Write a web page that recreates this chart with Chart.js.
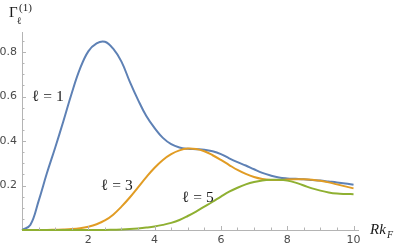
<!DOCTYPE html>
<html>
<head>
<meta charset="utf-8">
<script src="https://cdn.jsdelivr.net/npm/chart.js@4.4.1/dist/chart.umd.min.js"></script>
<style>
html,body{margin:0;padding:0;background:#fff;}
#wrap{width:399px;height:248px;}
</style>
</head>
<body>
<div id="wrap"><canvas id="c" width="399" height="248"></canvas></div>
<script>
const xValues = [0,0.25,0.5,0.75,1,1.25,1.5,1.75,2,2.25,2.5,2.75,3,3.25,3.5,3.75,4,4.25,4.5,4.75,5,5.25,5.5,5.75,6,6.25,6.5,6.75,7,7.25,7.5,7.75,8,8.25,8.5,8.75,9,9.25,9.5,9.75,10];
const gammaL1 = [0,0.022,0.13,0.255,0.37,0.49,0.615,0.725,0.803,0.839,0.846,0.815,0.757,0.667,0.585,0.512,0.458,0.414,0.386,0.371,0.365,0.363,0.361,0.354,0.341,0.322,0.305,0.290,0.273,0.257,0.245,0.236,0.232,0.230,0.228,0.225,0.222,0.218,0.214,0.209,0.203];
const gammaL3 = [0,0,0,0,0.001,0.002,0.004,0.008,0.015,0.026,0.043,0.069,0.105,0.146,0.192,0.238,0.280,0.315,0.341,0.358,0.366,0.364,0.354,0.336,0.315,0.292,0.270,0.252,0.238,0.229,0.225,0.225,0.227,0.228,0.228,0.226,0.221,0.214,0.205,0.196,0.187];
const gammaL5 = [0,0,0,0,0,0,0,0,0,0,0,0.001,0.002,0.004,0.007,0.011,0.016,0.023,0.032,0.045,0.063,0.083,0.105,0.127,0.150,0.172,0.190,0.205,0.216,0.223,0.226,0.226,0.222,0.213,0.200,0.187,0.177,0.169,0.164,0.162,0.161];
const xTickValues = [2,4,6,8,10];
const yTickValues = [0.2,0.4,0.6,0.8];
const curveLabels = ['ℓ = 1','ℓ = 3','ℓ = 5'];

const toPts = ys => xValues.map((x,i)=>({x:x,y:ys[i]}));
const axisColor = '#b4b4b4';

const decorations = {
  id:'decorations',
  afterDraw(chart){
    const ctx = chart.ctx;
    const xs = chart.scales.x, ys = chart.scales.y;
    const x0 = xs.getPixelForValue(0), y0 = ys.getPixelForValue(0);
    ctx.save();
    ctx.strokeStyle = axisColor;
    ctx.lineWidth = 1;
    ctx.beginPath();
    for (let v = 0.5; v <= 10.001; v += 0.5) {
      const major = Math.abs(v/2 - Math.round(v/2)) < 1e-6;
      const px = Math.round(xs.getPixelForValue(v)) + 0.5;
      ctx.moveTo(px, y0);
      ctx.lineTo(px, y0 - (major ? 4 : 2.5));
    }
    for (let v = 0.05; v <= 0.86; v += 0.05) {
      const major = Math.abs(v/0.2 - Math.round(v/0.2)) < 1e-6;
      const py = Math.round(ys.getPixelForValue(v)) + 0.5;
      ctx.moveTo(x0, py);
      ctx.lineTo(x0 + (major ? 4 : 2.5), py);
    }
    ctx.stroke();

    ctx.fillStyle = '#1a1a1a';
    ctx.textBaseline = 'alphabetic';
    ctx.textAlign = 'left';
    ctx.font = '15.5px "Liberation Serif"';
    ctx.fillText(curveLabels[0], 32, 101);
    ctx.fillText(curveLabels[1], 101, 190);
    ctx.fillText(curveLabels[2], 182, 202);
    ctx.font = '15px "Liberation Serif"';
    ctx.fillText('Γ', 9, 17);
    ctx.font = '10px "Liberation Serif"';
    ctx.fillText('ℓ', 17, 24);
    ctx.font = '11px "Liberation Serif"';
    ctx.fillText('(1)', 19, 11);
    ctx.font = 'italic 15px "Liberation Serif"';
    ctx.fillText('Rk', 370, 234);
    ctx.font = 'italic 10px "Liberation Serif"';
    ctx.fillText('F', 387, 238);
    ctx.restore();
  }
};

new Chart(document.getElementById('c'), {
  type:'scatter',
  data:{datasets:[
    {data:toPts(gammaL1), borderColor:'#5E81B5', order:3},
    {data:toPts(gammaL3), borderColor:'#E19C24', order:2},
    {data:toPts(gammaL5), borderColor:'#8FB032', order:1}
  ].map(d=>Object.assign(d,{showLine:true, pointRadius:0, borderWidth:2, tension:0.4, clip:6, fill:false}))},
  options:{
    responsive:false, animation:false, devicePixelRatio:1,
    layout:{padding:{top:32,right:40.5,left:0,bottom:0}},
    plugins:{legend:{display:false},tooltip:{enabled:false}},
    scales:{
      x:{type:'linear', min:0, max:10.15,
        grid:{display:false, drawTicks:false},
        border:{display:true, color:axisColor, width:1},
        afterBuildTicks:s=>{s.ticks = xTickValues.map(v=>({value:v}));},
        afterFit:s=>{s.height = 18;},
        ticks:{padding:4, color:'#4a4a4a', font:{family:'"DejaVu Sans"', size:11}, callback:v=>String(v), maxRotation:0, autoSkip:false}
      },
      y:{type:'linear', min:0, max:0.89,
        grid:{display:false, drawTicks:false},
        border:{display:true, color:axisColor, width:1},
        afterBuildTicks:s=>{s.ticks = yTickValues.map(v=>({value:v}));},
        afterFit:s=>{s.width = 22;},
        ticks:{padding:5, color:'#4a4a4a', font:{family:'"DejaVu Sans"', size:11}, callback:v=>v.toFixed(1), autoSkip:false}
      }
    }
  },
  plugins:[decorations]
});
</script>
</body>
</html>
